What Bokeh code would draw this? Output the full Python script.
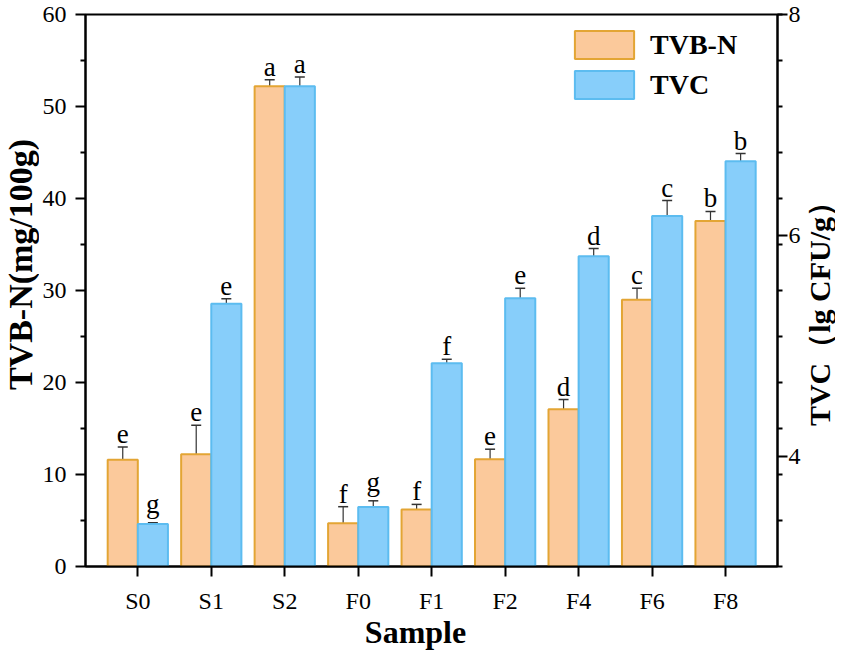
import math
from bokeh.plotting import figure
from bokeh.layouts import row
from bokeh.models import (Range1d, LinearAxis, FixedTicker, Whisker, TeeHead,
                          ColumnDataSource, Legend, LegendItem, Label)
from bokeh.embed import file_html
from bokeh.resources import INLINE
from bokeh.core.properties import value

# ---------------- data ----------------
samples = ["S0", "S1", "S2", "F0", "F1", "F2", "F4", "F6", "F8"]
tvbn = [11.6, 12.2, 52.2, 4.7, 6.2, 11.65, 17.1, 29.0, 37.55]
tvbn_err = [1.4, 3.15, 0.7, 1.8, 0.55, 1.1, 1.05, 1.25, 1.05]
tvbn_sig = ["e", "e", "a", "f", "f", "e", "d", "c", "b"]
tvc = [3.385, 5.38, 7.35, 3.54, 4.84, 5.43, 5.81, 6.175, 6.67]
tvc_err = [0.012, 0.046, 0.083, 0.055, 0.037, 0.09, 0.07, 0.14, 0.07]
tvc_sig = ["g", "e", "a", "g", "f", "e", "d", "c", "b"]
left_ticks = [0, 10, 20, 30, 40, 50, 60]
left_minor = [5, 15, 25, 35, 45, 55]
right_ticks = [4, 6, 8]
right_min, right_max = 3, 8
x_title = "Sample"
y_title = "TVB-N(mg/100g)"
y2_title = "TVC（lg CFU/g）"

FONT = "Liberation Serif"
OR_FILL, OR_LINE = "#FBC99B", "#E3A534"
BL_FILL, BL_LINE = "#87CEFA", "#5CBCF0"
ERR = "#333333"
NB = "\u00a0"

H = 652
BL, BR, BT, BB = 44, 23, 14, 80
FW = 697
WL = 39
WM = BL + FW + BR
WR = 835 - WL - WM

n = len(samples)
xc = [i + 1 for i in range(n)]
bw = 0.41
desc = "gjpqy"
src = ColumnDataSource(dict(
    x_a=[x - bw / 2 for x in xc],
    x_b=[x + bw / 2 for x in xc],
    tvbn=tvbn,
    tvbn_hi=[v + e for v, e in zip(tvbn, tvbn_err)],
    tvbn_lo=[v - e for v, e in zip(tvbn, tvbn_err)],
    tvbn_sig=tvbn_sig,
    tvbn_off=[-19 if s in desc else -13 for s in tvbn_sig],
    tvc=tvc,
    tvc_hi=[v + e for v, e in zip(tvc, tvc_err)],
    tvc_lo=[v - e for v, e in zip(tvc, tvc_err)],
    tvc_sig=tvc_sig,
    tvc_off=[-19 if s in desc else -13 for s in tvc_sig],
))

p = figure(width=WM, height=H, x_range=Range1d(0.288, 9.707),
           y_range=Range1d(left_ticks[0], left_ticks[-1]),
           output_backend="svg", toolbar_location=None,
           min_border_left=BL, min_border_right=BR,
           min_border_top=BT, min_border_bottom=BB)
p.extra_y_ranges = {"tvc": Range1d(right_min, right_max)}
p.xgrid.visible = False
p.ygrid.visible = False
p.outline_line_color = "black"
p.outline_line_width = 2
p.background_fill_color = "white"
p.border_fill_color = "white"

# bars
bar_a = p.vbar(x="x_a", top="tvbn", bottom=0, width=bw, source=src,
               fill_color=OR_FILL, line_color=OR_LINE, line_width=2)
bar_b = p.vbar(x="x_b", top="tvc", bottom=right_min, width=bw, source=src,
               y_range_name="tvc", fill_color=BL_FILL, line_color=BL_LINE, line_width=2)

# error bars
for base, up, lo, rng in [("x_a", "tvbn_hi", "tvbn_lo", "default"),
                          ("x_b", "tvc_hi", "tvc_lo", "tvc")]:
    w = Whisker(source=src, base=base, upper=up, lower=lo, dimension="height",
                line_color=ERR, line_width=1.2,
                upper_head=TeeHead(size=10, line_color=ERR, line_width=1.5),
                lower_head=TeeHead(size=10, line_color=ERR, line_width=1.5))
    if rng != "default":
        w.y_range_name = rng
    p.add_layout(w)

# significance letters
p.text(x="x_a", y="tvbn_hi", text="tvbn_sig", source=src, y_offset="tvbn_off",
       text_align="center", text_baseline="alphabetic",
       text_font=value(FONT), text_font_size="27px", text_color="black")
p.text(x="x_b", y="tvc_hi", text="tvc_sig", source=src, y_offset="tvc_off",
       y_range_name="tvc", text_align="center", text_baseline="alphabetic",
       text_font=value(FONT), text_font_size="27px", text_color="black")

# axes styling
def style_axis(ax):
    ax.axis_line_width = 2
    ax.axis_line_color = "black"
    ax.major_tick_line_width = 2
    ax.minor_tick_line_width = 2
    ax.major_tick_in = 0
    ax.minor_tick_in = 0
    ax.major_tick_out = 10
    ax.minor_tick_out = 5
    ax.major_label_text_font = FONT
    ax.major_label_text_font_size = "24px"
    ax.major_label_text_color = "black"
    ax.axis_label_text_font = FONT
    ax.axis_label_text_font_style = "bold"
    ax.axis_label_text_font_size = "32px"
    ax.axis_label_text_color = "black"

xa = p.xaxis[0]
xa.ticker = FixedTicker(ticks=xc)
xa.major_label_overrides = {x: s for x, s in zip(xc, samples)}
style_axis(xa)
xa.axis_label = x_title + NB * 4
xa.minor_tick_line_color = None
xa.major_label_standoff = 11
xa.axis_label_standoff = -3

ya = p.yaxis[0]
ya.ticker = FixedTicker(ticks=left_ticks, minor_ticks=left_minor)
style_axis(ya)
ya.major_label_standoff = 9

right_minor = [right_min + k * (right_max - right_min) / 12 for k in range(13)]
ra = LinearAxis(y_range_name="tvc",
                ticker=FixedTicker(ticks=right_ticks, minor_ticks=right_minor))
style_axis(ra)
ra.major_label_standoff = 1
p.add_layout(ra, "right")

# legend
leg = Legend(items=[LegendItem(label="TVB-N", renderers=[bar_a]),
                    LegendItem(label="TVC", renderers=[bar_b])],
             location=(482, 464), orientation="vertical",
             glyph_width=74, glyph_height=35, spacing=5, padding=0, margin=0,
             label_standoff=9, label_text_font=FONT, label_text_font_style="bold",
             label_text_font_size="28px", label_text_color="black",
             border_line_color=None, background_fill_alpha=0)
p.add_layout(leg)


# vertical axis titles in narrow strips beside the plot (frames align with p)
def title_strip(width, text, size, cx, cy):
    f = figure(width=width, height=H, output_backend="svg", toolbar_location=None,
               x_axis_location=None, y_axis_location=None,
               min_border_left=0, min_border_right=0,
               min_border_top=BT, min_border_bottom=BB)
    f.xgrid.visible = False
    f.ygrid.visible = False
    f.outline_line_color = None
    f.background_fill_color = "white"
    f.border_fill_color = "white"
    f.add_layout(Label(x=cx, y=cy, x_units="screen", y_units="screen", text=text,
                       angle=math.pi / 2, text_align="center", text_baseline="middle",
                       text_font=FONT, text_font_style="bold", text_font_size=size,
                       text_color="black"))
    return f


frame_bottom = H - BB
left_strip = title_strip(WL, y_title, "34px", 20, frame_bottom - 270)
right_strip = title_strip(WR, y2_title, "30px", 16, frame_bottom - 312)

layout = row(left_strip, p, right_strip, spacing=0)
open("out.html", "w").write(file_html(layout, INLINE))
